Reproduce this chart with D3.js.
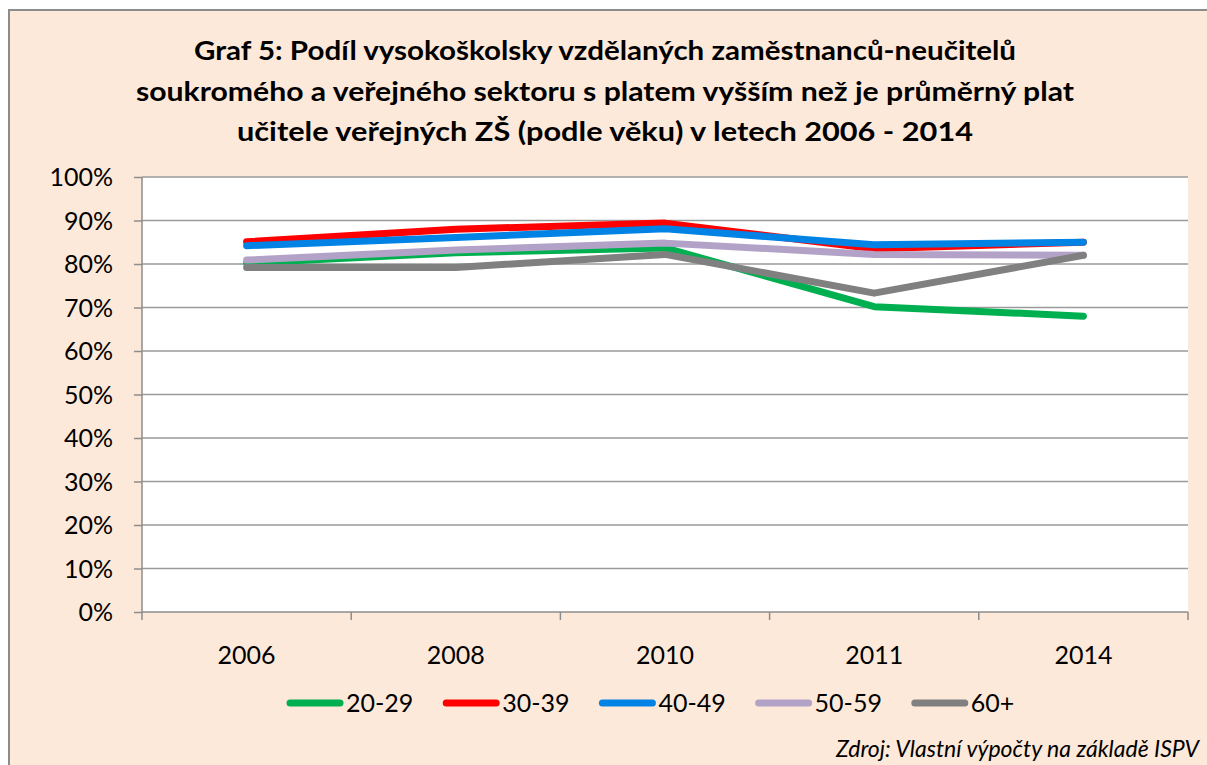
<!DOCTYPE html>
<html>
<head>
<meta charset="utf-8">
<script src="https://cdn.jsdelivr.net/npm/d3@7"></script>
<style>
  body { margin: 0; background: #fff; }
  text { font-family: Lato, "Open Sans", sans-serif; fill: #000; }
</style>
</head>
<body>
<div id="chart"></div>
<script>
// Graf 5 - podíl VŠ zaměstnanců s platem vyšším než průměrný plat učitele ZŠ

var years = ["2006", "2008", "2010", "2011", "2014"];
var seriesNames = ["20-29", "30-39", "40-49", "50-59", "60+"];
var seriesColors = ["#00B050", "#FF0000", "#0083E4", "#B3A2C7", "#808080"];
var v2029 = [80.2, 82.6, 83.7, 70.2, 68.0];
var v3039 = [85.1, 88.0, 89.4, 83.5, 85.0];
var v4049 = [84.2, 86.1, 88.1, 84.4, 85.0];
var v5059 = [80.9, 83.2, 84.8, 82.2, 82.0];
var v60 = [79.2, 79.2, 82.2, 73.3, 82.0];
var yTicks = [0, 10, 20, 30, 40, 50, 60, 70, 80, 90, 100];
var titleLines = [
  "Graf 5: Podíl vysokoškolsky vzdělaných zaměstnanců-neučitelů",
  "soukromého a veřejného sektoru s platem vyšším než je průměrný plat",
  "učitele veřejných ZŠ (podle věku) v letech 2006 - 2014"
];
var sourceText = "Zdroj: Vlastní výpočty na základě ISPV";

var allValues = [v2029, v3039, v4049, v5059, v60];

const W = 1207, H = 765;
const margin = {left: 142, right: 19, top: 177, bottom: 153};
const width = W - margin.left - margin.right;
const height = H - margin.top - margin.bottom;

const svg = d3.select('#chart').append('svg')
  .attr('width', W)
  .attr('height', H);

// background frame
svg.append('rect')
  .attr('x', 9).attr('y', 10)
  .attr('width', W).attr('height', H)
  .style('fill', '#FDE9D9')
  .style('stroke', '#8c8c8c')
  .style('stroke-width', 2);

// title
var titleWidths = [822, 938, 736];
var titleBase = [60, 100.5, 141];
titleLines.forEach((t, i) => {
  svg.append('text')
    .attr('x', 605).attr('y', titleBase[i])
    .attr('text-anchor', 'middle')
    .attr('textLength', titleWidths[i])
    .attr('lengthAdjust', 'spacingAndGlyphs')
    .style('font-size', '27px')
    .style('font-weight', 'bold')
    .text(t);
});

const g = svg.append('g')
  .attr('transform', `translate(${margin.left},${margin.top})`);

g.append('rect')
  .attr('width', width).attr('height', height)
  .style('fill', '#fff');

const x = d3.scaleBand().domain(years).range([0, width]);
const y = d3.scaleLinear().domain([0, 100]).range([height, 0]);

// gridlines
g.selectAll('.grid').data(yTicks.slice(1)).enter().append('line')
  .attr('x1', 0).attr('x2', width)
  .attr('y1', d => y(d)).attr('y2', d => y(d))
  .style('stroke', '#9a9a9a')
  .style('stroke-width', 1.5);

// Y axis
const yAxis = g.append('g')
  .call(d3.axisLeft(y).tickValues(yTicks).tickFormat(d => d + '%').tickSize(8).tickPadding(21));
yAxis.select('.domain').style('stroke', '#8c8c8c').style('stroke-width', 1.5)
  .attr('d', `M0,0V${height}`);
yAxis.selectAll('.tick line').style('stroke', '#8c8c8c').style('stroke-width', 1.5);
yAxis.selectAll('text').style('font-size', '25px').style('font-family', 'Lato, sans-serif').attr('dy', '0.35em');

// X axis
const xAxis = g.append('g')
  .attr('transform', `translate(0,${height})`)
  .call(d3.axisBottom(x).tickSize(0).tickPadding(34));
xAxis.select('.domain').style('stroke', '#8c8c8c').style('stroke-width', 1.5)
  .attr('d', `M0,0H${width}`);
xAxis.selectAll('text').style('font-size', '25px').style('font-family', 'Lato, sans-serif');
const xBounds = d3.range(years.length + 1).map(i => i * x.step());
xAxis.selectAll('.xt').data(xBounds).enter().append('line')
  .attr('x1', d => d).attr('x2', d => d)
  .attr('y1', 0).attr('y2', 8)
  .style('stroke', '#8c8c8c').style('stroke-width', 1.5);

// lines
const line = d3.line()
  .x((d, i) => x(years[i]) + x.bandwidth() / 2)
  .y(d => y(d));

allValues.forEach((vals, s) => {
  g.append('path')
    .datum(vals)
    .attr('d', line)
    .style('fill', 'none')
    .style('stroke', seriesColors[s])
    .style('stroke-width', 7)
    .style('stroke-linecap', 'round')
    .style('stroke-linejoin', 'round');
});

// legend
const legend = svg.append('g').attr('transform', 'translate(287,703)');
seriesNames.forEach((n, i) => {
  const lg = legend.append('g').attr('transform', `translate(${i * 156.2},0)`);
  lg.append('line')
    .attr('x1', 3).attr('x2', 53)
    .attr('y1', 0).attr('y2', 0)
    .style('stroke', seriesColors[i])
    .style('stroke-width', 7)
    .style('stroke-linecap', 'round');
  lg.append('text')
    .attr('x', 59).attr('y', 0).attr('dy', '0.35em')
    .style('font-size', '25px')
    .text(n);
});

// source
svg.append('text')
  .attr('x', 1199).attr('y', 757)
  .attr('text-anchor', 'end')
  .style('font-size', '23px')
  .style('font-style', 'italic')
  .text(sourceText);
</script>
</body>
</html>
